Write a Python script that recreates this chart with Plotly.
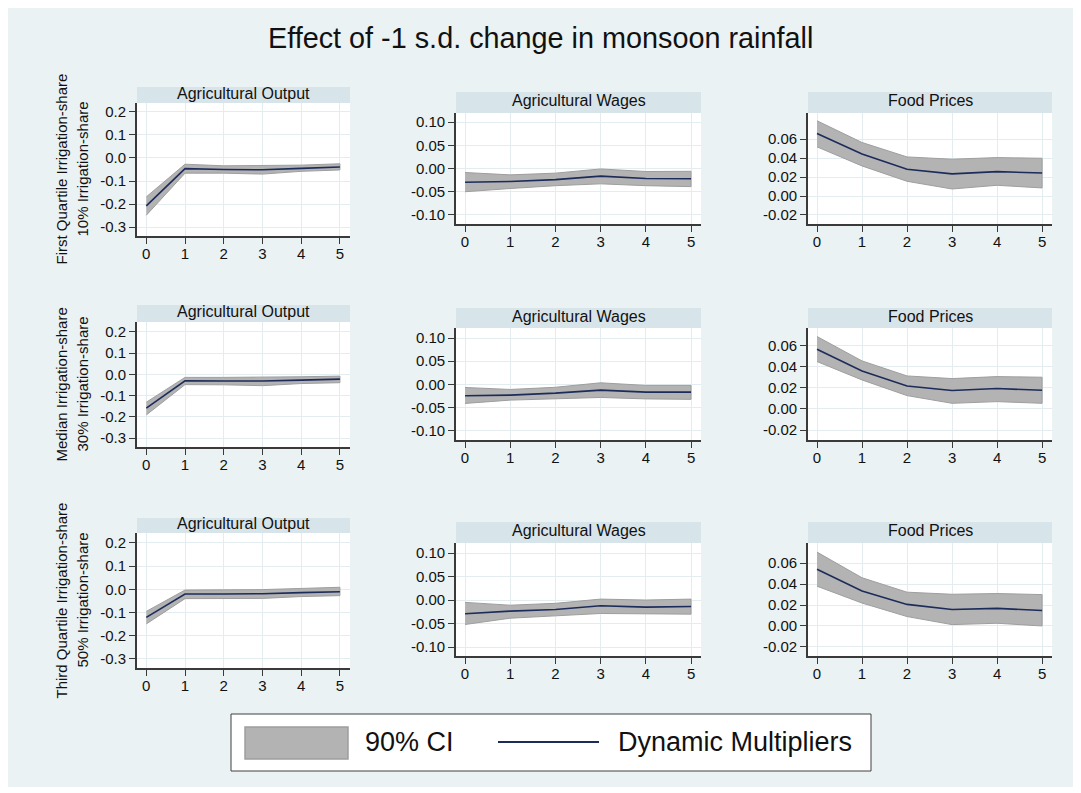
import plotly.graph_objects as go

# page body adds an 8px white margin; figure fills the rest of the window
OFF = 8
W, H = 1067, 779

# ---------------- data ----------------
horizons = [0, 1, 2, 3, 4, 5]
x_tick_labels = ["0", "1", "2", "3", "4", "5"]

chart_title = "Effect of -1 s.d. change in monsoon rainfall"
panel_titles = ["Agricultural Output", "Agricultural Wages", "Food Prices"]
row_titles = [
    ("First Quartile Irrigation-share", "10% Irrigation-share"),
    ("Median Irrigation-share", "30% Irrigation-share"),
    ("Third Quartile Irrigation-share", "50% Irrigation-share"),
]
legend_labels = ["90% CI", "Dynamic Multipliers"]

# Agricultural Output
output_q1_mean = [-0.208, -0.046, -0.050, -0.051, -0.045, -0.039]
output_q1_lo = [-0.249, -0.066, -0.066, -0.070, -0.058, -0.052]
output_q1_hi = [-0.169, -0.027, -0.034, -0.032, -0.031, -0.025]
output_med_mean = [-0.159, -0.030, -0.031, -0.031, -0.027, -0.022]
output_med_lo = [-0.191, -0.048, -0.049, -0.053, -0.043, -0.039]
output_med_hi = [-0.131, -0.014, -0.014, -0.014, -0.011, -0.008]
output_q3_mean = [-0.121, -0.020, -0.020, -0.019, -0.014, -0.010]
output_q3_lo = [-0.149, -0.040, -0.038, -0.039, -0.031, -0.027]
output_q3_hi = [-0.095, -0.003, -0.002, -0.001, 0.004, 0.009]

# Agricultural Wages
wages_q1_mean = [-0.0295, -0.0280, -0.0240, -0.0165, -0.0216, -0.0220]
wages_q1_lo = [-0.0500, -0.0430, -0.0370, -0.0330, -0.0370, -0.0390]
wages_q1_hi = [-0.0086, -0.0137, -0.0100, -0.0010, -0.0065, -0.0060]
wages_med_mean = [-0.0243, -0.0229, -0.0186, -0.0121, -0.0164, -0.0164]
wages_med_lo = [-0.0407, -0.0336, -0.0310, -0.0279, -0.0310, -0.0320]
wages_med_hi = [-0.0064, -0.0107, -0.0060, 0.0036, -0.0020, -0.0020]
wages_q3_mean = [-0.0293, -0.0236, -0.0200, -0.0120, -0.0150, -0.0136]
wages_q3_lo = [-0.0520, -0.0386, -0.0336, -0.0286, -0.0300, -0.0300]
wages_q3_hi = [-0.0050, -0.0110, -0.0070, 0.0020, 0.0000, 0.0020]

# Food Prices
food_q1_mean = [0.0659, 0.0444, 0.0282, 0.0233, 0.0257, 0.0243]
food_q1_lo = [0.0518, 0.0317, 0.0155, 0.0074, 0.0113, 0.0085]
food_q1_hi = [0.0793, 0.0564, 0.0412, 0.0388, 0.0405, 0.0398]
food_med_mean = [0.0568, 0.0362, 0.0219, 0.0175, 0.0194, 0.0178]
food_med_lo = [0.0451, 0.0276, 0.0127, 0.0054, 0.0070, 0.0054]
food_med_hi = [0.0689, 0.0457, 0.0314, 0.0289, 0.0308, 0.0302]
food_q3_mean = [0.0542, 0.0335, 0.0206, 0.0158, 0.0168, 0.0148]
food_q3_lo = [0.0380, 0.0219, 0.0090, 0.0013, 0.0026, 0.0000]
food_q3_hi = [0.0706, 0.0461, 0.0323, 0.0303, 0.0310, 0.0300]

# y tick values / labels per column
output_ticks = [-0.3, -0.2, -0.1, 0.0, 0.1, 0.2]
output_tick_labels = ["-0.3", "-0.2", "-0.1", "0.0", "0.1", "0.2"]
wages_ticks = [-0.10, -0.05, 0.00, 0.05, 0.10]
wages_tick_labels = ["-0.10", "-0.05", "0.00", "0.05", "0.10"]
food_ticks = [-0.02, 0.00, 0.02, 0.04, 0.06]
food_tick_labels = ["-0.02", "0.00", "0.02", "0.04", "0.06"]

series = [
    [(output_q1_mean, output_q1_lo, output_q1_hi),
     (wages_q1_mean, wages_q1_lo, wages_q1_hi),
     (food_q1_mean, food_q1_lo, food_q1_hi)],
    [(output_med_mean, output_med_lo, output_med_hi),
     (wages_med_mean, wages_med_lo, wages_med_hi),
     (food_med_mean, food_med_lo, food_med_hi)],
    [(output_q3_mean, output_q3_lo, output_q3_hi),
     (wages_q3_mean, wages_q3_lo, wages_q3_hi),
     (food_q3_mean, food_q3_lo, food_q3_hi)],
]
col_ticks = [(output_ticks, output_tick_labels),
             (wages_ticks, wages_tick_labels),
             (food_ticks, food_tick_labels)]

# ---------------- layout geometry (window pixels) ----------------
col_px = [(137, 350), (456, 701), (808, 1052)]
col_xrange = [[-0.24, 5.26], [-0.2, 5.22], [-0.2, 5.22]]
plot_py = [
    [(103, 236), (113, 224), (113, 224)],
    [(322, 447), (328, 440), (328, 440)],
    [(533, 668), (543, 656), (543, 656)],
]
strip_py = [
    [(87, 103), (92, 113), (92, 113)],
    [(305, 322), (308, 328), (308, 328)],
    [(518, 533), (522, 543), (522, 543)],
]
yranges = [
    [[-0.339, 0.239], [-0.1194, 0.1194], [-0.0295, 0.0875]],
    [[-0.342, 0.247], [-0.1194, 0.1215], [-0.0295, 0.077]],
    [[-0.339, 0.243], [-0.119, 0.1213], [-0.0287, 0.0793]],
]

BG = "#eaf2f3"
STRIP = "#d7e4ea"
GRID = "#e3edf0"
AXIS = "#3a3a3a"
BAND = "#b3b3b3"
BAND_EDGE = "#9e9e9e"
NAVY = "#1c2b5a"
FONT = "Arial, Liberation Sans, sans-serif"


def px_x(p):
    return (p - OFF) / W


def px_y(p):
    return 1 - (p - OFF) / H


fig = go.Figure()
layout = {}
shapes = []
annotations = []

for r in range(3):
    for c in range(3):
        k = r * 3 + c
        s = "" if k == 0 else str(k + 1)
        mean, lo, hi = series[r][c]
        fig.add_trace(go.Scatter(
            x=horizons + horizons[::-1], y=hi + lo[::-1],
            fill="toself", fillcolor=BAND, mode="lines",
            line=dict(color=BAND_EDGE, width=1),
            xaxis="x" + s, yaxis="y" + s, showlegend=False, hoverinfo="skip"))
        fig.add_trace(go.Scatter(
            x=horizons, y=mean, mode="lines",
            line=dict(color=NAVY, width=1.6),
            xaxis="x" + s, yaxis="y" + s, showlegend=False))

        x0, x1 = col_px[c]
        yt, yb = plot_py[r][c]
        tv, tt = col_ticks[c]
        layout["xaxis" + s] = dict(
            domain=[px_x(x0), px_x(x1)], range=col_xrange[c], anchor="y" + s,
            tickvals=horizons, ticktext=x_tick_labels, ticks="outside",
            ticklen=6, tickwidth=1, tickcolor=AXIS, showline=True,
            linecolor=AXIS, linewidth=1.5, showgrid=True, gridcolor=GRID,
            gridwidth=1, zeroline=False, tickfont=dict(size=15, color="#111"),
            ticklabelstandoff=-3, fixedrange=True)
        layout["yaxis" + s] = dict(
            domain=[px_y(yb), px_y(yt)], range=yranges[r][c], anchor="x" + s,
            tickvals=tv, ticktext=tt, ticks="outside", ticklen=6, tickwidth=1,
            tickcolor=AXIS, showline=True, linecolor=AXIS, linewidth=1.8,
            showgrid=True, gridcolor=GRID, gridwidth=1, zeroline=False,
            tickfont=dict(size=15, color="#111"), fixedrange=True)

        st, sb = strip_py[r][c]
        shapes.append(dict(type="rect", xref="paper", yref="paper",
                           x0=px_x(x0), x1=px_x(x1), y0=px_y(sb), y1=px_y(st),
                           fillcolor=STRIP, line=dict(width=0), layer="below"))
        annotations.append(dict(text=panel_titles[c], xref="paper", yref="paper",
                                x=px_x((x0 + x1) / 2), y=px_y((st + sb) / 2 - 2),
                                xanchor="center", yanchor="middle", showarrow=False,
                                font=dict(size=16, color="#111")))
    # row titles
    yt, yb = plot_py[r][0]
    yc = px_y((yt + yb) / 2)
    for line_txt, xp in zip(row_titles[r], [61, 82]):
        annotations.append(dict(text=line_txt, xref="paper", yref="paper",
                                x=px_x(xp), y=yc, textangle=-90,
                                xanchor="center", yanchor="middle", showarrow=False,
                                font=dict(size=15, color="#111")))

# title
annotations.append(dict(text=chart_title, xref="paper", yref="paper",
                        x=px_x(540), y=px_y(38), xanchor="center", yanchor="middle",
                        showarrow=False, font=dict(size=28.8, color="#111")))

# custom legend
shapes.append(dict(type="rect", xref="paper", yref="paper",
                   x0=px_x(231), x1=px_x(871), y0=px_y(771), y1=px_y(714),
                   fillcolor="white", line=dict(color="#404040", width=1)))
shapes.append(dict(type="rect", xref="paper", yref="paper",
                   x0=px_x(245), x1=px_x(348), y0=px_y(759), y1=px_y(727),
                   fillcolor=BAND, line=dict(color=BAND_EDGE, width=1.5)))
shapes.append(dict(type="line", xref="paper", yref="paper",
                   x0=px_x(498), x1=px_x(599), y0=px_y(742), y1=px_y(742),
                   line=dict(color=NAVY, width=2)))
annotations.append(dict(text=legend_labels[0], xref="paper", yref="paper",
                        x=px_x(363), y=px_y(742), xanchor="left", yanchor="middle",
                        showarrow=False, font=dict(size=27, color="#111")))
annotations.append(dict(text=legend_labels[1], xref="paper", yref="paper",
                        x=px_x(616), y=px_y(742), xanchor="left", yanchor="middle",
                        showarrow=False, font=dict(size=27, color="#111")))

fig.update_layout(
    width=W, height=H, margin=dict(l=0, r=0, t=0, b=0),
    paper_bgcolor=BG, plot_bgcolor="white",
    font=dict(family=FONT, color="#111"),
    shapes=shapes, annotations=annotations, showlegend=False,
    **layout)

fig.write_html("out.html", config={"displayModeBar": False})
